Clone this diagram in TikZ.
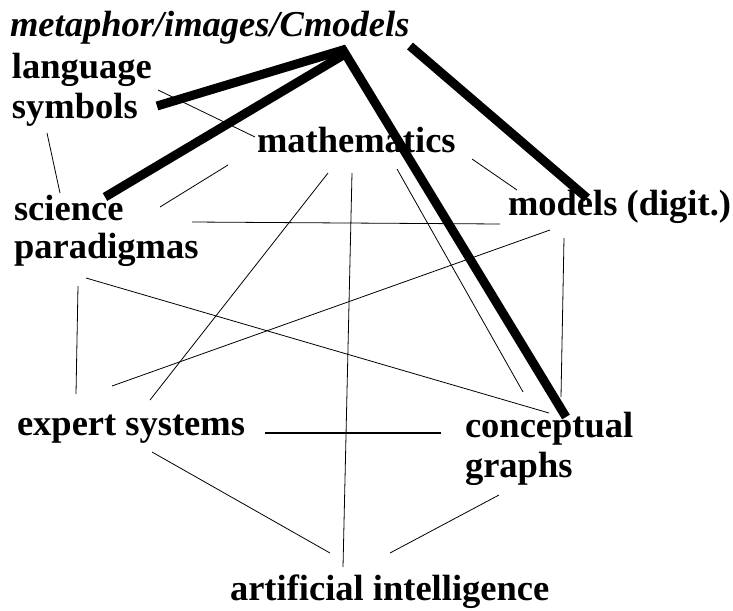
\documentclass[tikz,border=0pt]{standalone}
\usepackage{fontspec}
\setmainfont{Liberation Serif}
\begin{document}
\begin{tikzpicture}[x=1pt,y=-1pt,
  lbl/.style={anchor=base west,inner sep=0pt,outer sep=0pt,font=\fontsize{36.5}{40}\selectfont\bfseries},
  ilbl/.style={lbl,font=\fontsize{36.5}{40}\selectfont\bfseries\itshape},
  thinline/.style={line width=0.8pt},
  midline/.style={line width=1.6pt},
  thickline/.style={line width=9pt,line cap=butt,line join=miter}]
\useasboundingbox (0,0) rectangle (733,610);
% labels
\node[ilbl] (meta) at (10,37) {metaphor/images/Cmodels};
\node[lbl] (lang1) at (12,78) {language};
\node[lbl] (lang2) at (12,118) {symbols};
\node[lbl] (math) at (257,152) {mathematics};
\node[lbl] (sci1) at (14,220) {science};
\node[lbl] (sci2) at (14,258) {paradigmas};
\node[lbl] (mod) at (508,215) {models (digit.)};
\node[lbl] (exp) at (17,435) {expert systems};
\node[lbl] (cg1) at (465,437) {conceptual};
\node[lbl] (cg2) at (465,477) {graphs};
\node[lbl] (ai) at (230,600) {artificial intelligence};
% connector end points
\coordinate (symA) at (158,90);   \coordinate (mathA) at (255,137);
\coordinate (symB) at (47,133);   \coordinate (sciA) at (60,193);
\coordinate (sciB) at (160,207);  \coordinate (mathB) at (228,165);
\coordinate (sciC) at (192,222);  \coordinate (modA) at (500,224);
\coordinate (mathC) at (472,159); \coordinate (modB) at (517,190);
\coordinate (modC) at (550,230);  \coordinate (expA) at (112,386);
\coordinate (modD) at (564,238);  \coordinate (cgA) at (561,397);
\coordinate (mathD) at (328,173); \coordinate (expB) at (150,400);
\coordinate (mathE) at (352,173); \coordinate (aiA) at (343,567);
\coordinate (mathF) at (397,169); \coordinate (cgB) at (523,392);
\coordinate (parA) at (86,278);   \coordinate (cgC) at (549,413);
\coordinate (parB) at (78,286);   \coordinate (expC) at (76,394);
\coordinate (expD) at (265,433);  \coordinate (cgD) at (441,433);
\coordinate (expE) at (152,452);  \coordinate (aiB) at (330,553);
\coordinate (cgE) at (499,495);   \coordinate (aiC) at (390,553);
\coordinate (hub) at (343,50);
\coordinate (hubB) at (345,54);
\coordinate (symT) at (157,106);
\coordinate (sciT) at (105,197);
\coordinate (cgT) at (566,417);
\coordinate (metaT) at (410,46);
\coordinate (modT) at (587,198);
% thin connectors
\draw[thinline] (symA) -- (mathA);
\draw[thinline] (symB) -- (sciA);
\draw[thinline] (sciB) -- (mathB);
\draw[thinline] (sciC) -- (modA);
\draw[thinline] (mathC) -- (modB);
\draw[thinline] (modC) -- (expA);
\draw[thinline] (modD) -- (cgA);
\draw[thinline] (mathD) -- (expB);
\draw[thinline] (mathE) -- (aiA);
\draw[thinline] (mathF) -- (cgB);
\draw[thinline] (parA) -- (cgC);
\draw[thinline] (parB) -- (expC);
\draw[midline] (expD) -- (cgD);
\draw[thinline] (expE) -- (aiB);
\draw[thinline] (cgE) -- (aiC);
% thick connectors
\draw[thickline] (symT) -- (hub) -- (cgT);
\draw[thickline] (sciT) -- (hubB);
\draw[thickline] (metaT) -- (modT);
\end{tikzpicture}
\end{document}
